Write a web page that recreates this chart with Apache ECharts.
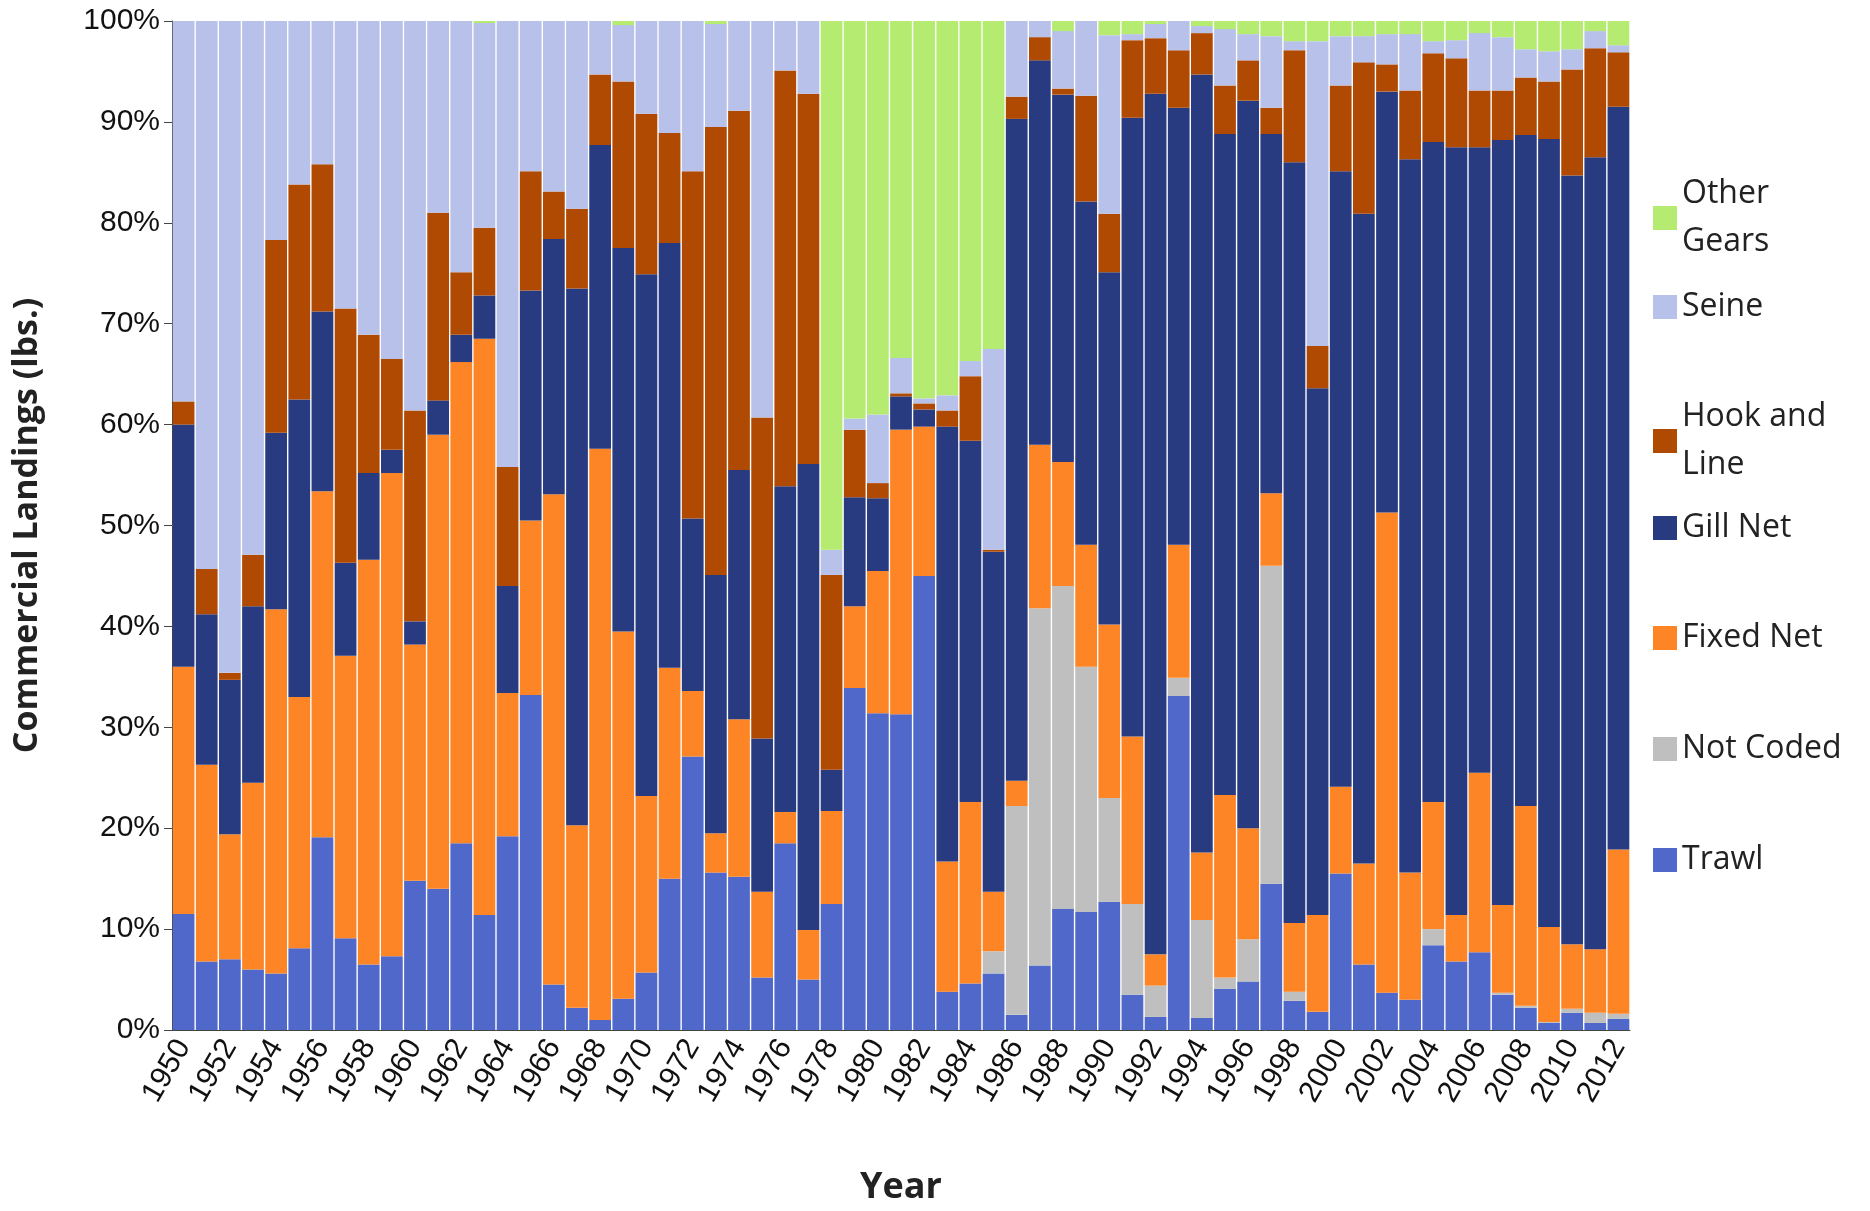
<!DOCTYPE html>
<html><head><meta charset="utf-8">
<script src="https://cdn.jsdelivr.net/npm/echarts@6/dist/echarts.min.js"></script>
<style>html,body{margin:0;background:#fff}#c{width:1870px;height:1211px}</style>
</head><body><div id="c"></div>
<script>
const years=[];for(let y=1950;y<=2012;y++)years.push(String(y));
const trawl=[11.5,6.8,7,6,5.6,8.1,19.1,9.1,6.5,7.3,14.8,14,18.5,11.4,19.2,33.2,4.5,2.2,1,3.1,5.7,15,27.1,15.6,15.2,5.2,18.5,5,12.5,33.9,31.4,31.3,45,3.8,4.6,5.6,1.5,6.4,12,11.7,12.7,3.5,1.3,33.1,1.2,4.1,4.8,14.5,2.9,1.8,15.5,6.5,3.7,3,8.4,6.8,7.7,3.5,2.2,0.7,1.7,0.7,1.1];
const notCoded=[0,0,0,0,0,0,0,0,0,0,0,0,0,0,0,0,0,0,0,0,0,0,0,0,0,0,0,0,0,0,0,0,0,0,0,2.2,20.7,35.4,32,24.3,10.3,9,3.1,1.8,9.7,1.1,4.2,31.5,0.9,0,0,0,0,0,1.6,0,0,0.2,0.2,0.1,0.4,1,0.5];
const fixedNet=[24.5,19.5,12.4,18.5,36.1,24.9,34.3,28,40.1,47.9,23.4,45,47.7,57.1,14.2,17.3,48.6,18.1,56.6,36.4,17.5,20.9,6.5,3.9,15.6,8.5,3.1,4.9,9.2,8.1,14.1,28.2,14.8,12.9,18,5.9,2.5,16.2,12.3,12.1,17.2,16.6,3.1,13.2,6.7,18.1,11,7.2,6.8,9.6,8.6,10,47.6,12.6,12.6,4.6,17.8,8.7,19.8,9.4,6.4,6.3,16.3];
const gillNet=[24,14.9,15.3,17.5,17.5,29.5,17.8,9.2,8.6,2.3,2.3,3.4,2.7,4.3,10.6,22.8,25.3,53.2,30.1,38,51.7,42.1,17.1,25.6,24.7,15.2,32.3,46.2,4.1,10.8,7.2,3.3,1.7,43.1,35.8,33.7,65.6,38.1,36.4,34,34.9,61.3,85.3,43.3,77.1,65.5,72.1,35.6,75.4,52.2,61,64.4,41.7,70.7,65.4,76.1,62,75.8,66.5,78.1,76.2,78.5,73.6];
const hookLine=[2.3,4.5,0.7,5.1,19.1,21.3,14.6,25.2,13.7,9,20.9,18.6,6.2,6.7,11.8,11.8,4.7,7.9,7,16.5,15.9,10.9,34.4,44.4,35.6,31.8,41.2,36.7,19.3,6.7,1.5,0.3,0.6,1.6,6.4,0.2,2.2,2.3,0.6,10.5,5.8,7.7,5.5,5.7,4.1,4.8,4,2.6,11.1,4.2,8.5,15,2.7,6.8,8.8,8.8,5.6,4.9,5.7,5.7,10.5,10.8,5.4];
const seine=[37.7,54.3,64.6,52.9,21.7,16.2,14.2,28.5,31.1,33.5,38.6,19,24.9,20.3,44.2,14.9,16.9,18.6,5.3,5.6,9.2,11.1,14.9,10.2,8.9,39.3,4.9,7.2,2.5,1.1,6.8,3.5,0.5,1.5,1.5,19.9,7.5,1.6,5.7,7.4,17.7,0.6,1.4,2.9,0.7,5.6,2.6,7.1,0.9,30.2,4.9,2.6,3,5.6,1.2,1.8,5.7,5.3,2.8,3,2,1.7,0.7];
const otherGears=[0,0,0,0,0,0,0,0,0,0,0,0,0,0.2,0,0,0,0,0,0.4,0,0,0,0.3,0,0,0,0,52.4,39.4,39,33.4,37.4,37.1,33.7,32.5,0,0,1,0,1.4,1.3,0.3,0,0.5,0.8,1.3,1.5,2,2,1.5,1.5,1.3,1.3,2,1.9,1.2,1.6,2.8,3,2.8,1,2.4];
const yTicks=[0,10,20,30,40,50,60,70,80,90,100];

const defs=[
 ['Trawl',trawl,'#4f68c9'],['Not Coded',notCoded,'#bfbfbf'],['Fixed Net',fixedNet,'#fd8526'],
 ['Gill Net',gillNet,'#283a80'],['Hook and\nLine',hookLine,'#b04a02'],['Seine',seine,'#b8c1e9'],['Other\nGears',otherGears,'#b5eb70']];
const legTops={'Other\nGears':165,'Seine':278,'Hook and\nLine':388,'Gill Net':499,'Fixed Net':609,'Not Coded':720,'Trawl':831};
const chart=echarts.init(document.getElementById('c'));
chart.setOption({
 animation:false,
 grid:{left:172,right:240,top:21,bottom:165},
 legend:defs.map(d=>({data:[d[0]],left:1648,top:legTops[d[0]],orient:'vertical',itemWidth:24,itemHeight:24,icon:'rect',
   textStyle:{fontSize:32,fontFamily:'Open Sans, Liberation Sans',color:'#222',lineHeight:48}})),
 xAxis:{type:'category',data:years,axisLine:{lineStyle:{color:'#444'}},axisTick:{interval:0,length:10,lineStyle:{color:'#444'}},
   axisLabel:{interval:1,rotate:60,fontSize:30,color:'#111',fontFamily:'Liberation Sans',margin:12},
   name:'Year',nameLocation:'middle',nameGap:140,nameTextStyle:{fontSize:36,fontWeight:'bold',color:'#222',fontFamily:'Open Sans'}},
 yAxis:{type:'value',min:yTicks[0],max:yTicks[yTicks.length-1],interval:10,splitLine:{show:false},
   axisLine:{show:true,lineStyle:{color:'#444'}},axisTick:{show:true,length:8,lineStyle:{color:'#444'}},
   axisLabel:{formatter:'{value}%',fontSize:30,color:'#111',fontFamily:'Liberation Sans',margin:12},
   name:'Commercial Landings (lbs.)',nameLocation:'middle',nameGap:128,nameTextStyle:{fontSize:34,fontWeight:'bold',color:'#222',fontFamily:'Open Sans'}},
 series:defs.map(d=>({name:d[0],type:'bar',stack:'a',data:d[1],barCategoryGap:'6%',itemStyle:{color:d[2]}}))
});
</script></body></html>
